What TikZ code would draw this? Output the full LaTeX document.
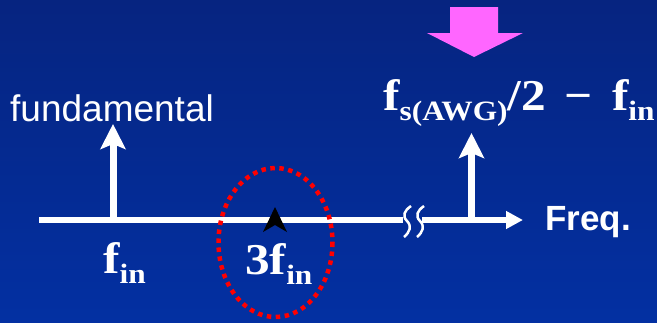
\documentclass[tikz,border=0pt]{standalone}
\usepackage{fontspec}
\usetikzlibrary{arrows.meta}
\newfontfamily\arialf{Liberation Sans}
\newfontfamily\serf{Liberation Serif}[FakeStretch=1.12]
\definecolor{bgtop}{RGB}{6,36,128}
\definecolor{bgbot}{RGB}{3,48,162}
\definecolor{pinkarrow}{RGB}{255,102,255}
\definecolor{reddot}{RGB}{255,0,0}
\newcommand\subtx[1]{\raisebox{-10.5pt}{\fontsize{28}{28}\selectfont #1}}
\tikzset{
  lbl/.style={inner sep=0pt, anchor=base west, text=white},
  mlbl/.style={lbl, font=\serf\bfseries\fontsize{44}{44}\selectfont},
  spike/.style={white, line width=7pt, -{Stealth[length=25pt 0 0, width=25pt 0 0, inset=5pt 0 0]}},
  axisline/.style={white, line width=6pt},
  breakline/.style={white, line width=2.5pt},
}
\begin{document}
\begin{tikzpicture}[x=1pt,y=-1pt]
\useasboundingbox (0,0) rectangle (657,322);
\shade[top color=bgtop, bottom color=bgbot] (0,0) rectangle (657,322);
% coordinates
\coordinate (a0) at (39,220);
\coordinate (a1) at (403,220);
\coordinate (a2) at (422,220);
\coordinate (a3) at (523,220);
\coordinate (f1) at (113,220);
\coordinate (f1top) at (113,124);
\coordinate (f2) at (471.5,220);
\coordinate (f2top) at (471.5,133);
% axis
\draw[axisline] (a0) -- (a1);
\draw[axisline, -{Triangle[length=17pt 0 0, width=17pt 0 0]}] (a2) -- (a3);
% break marks
\draw[breakline] (411,206) .. controls (404,211) and (402,216) .. (407,221) .. controls (412,226) and (410,232) .. (404,237);
\draw[breakline] (424,206) .. controls (417,211) and (415,216) .. (420,221) .. controls (425,226) and (423,232) .. (417,237);
% spikes
\draw[spike] (f1) -- (f1top);
\draw[spike] (f2) -- (f2top);
% dotted ellipse
\draw[reddot, line width=4.5pt, dash pattern=on 4.5pt off 4.5pt] (275.5,242.5) ellipse [x radius=57, y radius=74.5];
% black arrowhead
\fill[black] (275,207) -- (287,232) -- (275,225) -- (263,232) -- cycle;
% pink arrow
\fill[pinkarrow] (450,7) -- (498,7) -- (498,33) -- (523,33) -- (474,57) -- (427,33) -- (450,33) -- cycle;
% labels
\node[lbl, font=\arialf\fontsize{37}{37}\selectfont] (fund) at (10,121) {fundamental};
\node[lbl, font=\arialf\bfseries\fontsize{35}{35}\selectfont] (freq) at (545,230) {Freq.};
\node[mlbl] (fin) at (103,273) {f\subtx{in}};
\node[mlbl] (tfin) at (245,274) {3f\subtx{in}};
\node[mlbl] (fs) at (383,110) {f\subtx{s(AWG)}/2\hspace{19pt}−\hspace{19pt}f\subtx{in}};
\end{tikzpicture}
\end{document}
